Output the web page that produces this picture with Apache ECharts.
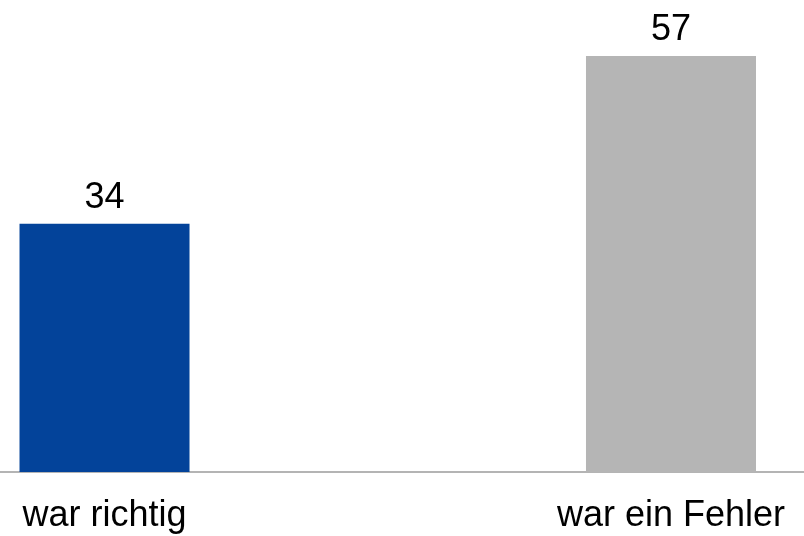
<!DOCTYPE html>
<html>
<head>
<meta charset="utf-8">
<script src="https://cdn.jsdelivr.net/npm/echarts@6/dist/echarts.min.js"></script>
<style>
  html, body { margin: 0; padding: 0; background: #fff; }
  #chart { width: 804px; height: 536px; }
</style>
</head>
<body>
<div id="chart"></div>
<script>
// Antworten
const categories = ['war richtig', 'war ein Fehler'];
const values = [34, 57];
const barColors = ['#03439a', '#b5b5b5'];
const catIndex = categories.map((c, i) => i);

const chart = echarts.init(document.getElementById('chart'));
chart.setOption({
  animation: false,
  textStyle: { fontFamily: 'Liberation Sans, Arial, sans-serif' },
  grid: { left: 0, right: 0, top: 34, bottom: 64, containLabel: false },
  // Ausschnitt: die Balken sitzen nicht mittig, daher Wertachse mit Index-Positionen
  xAxis: {
    type: 'value',
    min: -0.1845,
    max: 1.2348,
    splitLine: { show: false },
    axisLine: { show: true, lineStyle: { color: '#b4b4b4', width: 2 } },
    axisTick: { show: false },
    axisLabel: {
      customValues: catIndex,
      formatter: v => categories[v],
      color: '#000',
      fontSize: 36,
      margin: 26
    }
  },
  yAxis: {
    type: 'value',
    min: 0,
    max: 60,
    show: false,
    splitLine: { show: false }
  },
  series: [{
    type: 'bar',
    barWidth: 170,
    data: values.map((v, i) => ({ value: [catIndex[i], v], itemStyle: { color: barColors[i] } })),
    label: { show: true, position: 'top', distance: 8, color: '#000', fontSize: 36, formatter: p => p.value[1] }
  }]
});
</script>
</body>
</html>
